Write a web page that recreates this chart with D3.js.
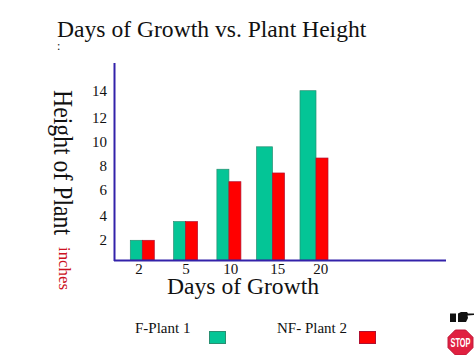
<!DOCTYPE html>
<html><head><meta charset="utf-8">
<style>html,body{margin:0;padding:0;background:#fff}svg{display:block}text{font-family:"Liberation Serif",serif;fill:#111}</style>
<script src="https://cdn.jsdelivr.net/npm/d3@7"></script></head><body>
<script>
const days = ["2","5","10","15","20"];
const plant1 = [2, 3.5, 7.7, 9.5, 14];
const plant2 = [2, 3.5, 6.7, 7.4, 8.6];
const yTicks = [2,4,6,8,10,12,14];
const seriesNames = ["F-Plant 1","NF- Plant 2"];

const green="#04c596", red="#ff0000", blue="#3322aa";
const svg=d3.select("body").append("svg").attr("width",474).attr("height",355);
const x=d3.scaleBand().domain(days).range([130.3,346.8]);
const y=d3.scaleLinear().domain([0.42,14]).range([260,90.7]);
const gw=i=>i>=3?16:12, rw=12;
const barNudge=[0,0,0,-3.7,-3.5];
const xNudge=[-3.3,0.4,1.8,9.2,8.8], yNudge={2:0,4:1,6:0,8:0,10:1,12:2,14:0};
const bx=i=>x(days[i])+barNudge[i];

const bars=svg.append("g");
bars.selectAll(".g").data(plant1).join("rect").attr("x",(d,i)=>bx(i)).attr("y",d=>y(d))
  .attr("width",(d,i)=>gw(i)).attr("height",d=>y.range()[0]-y(d)).attr("fill",green).attr("stroke","#2a8f72").attr("stroke-width",.7);
bars.selectAll(".r").data(plant2).join("rect").attr("x",(d,i)=>bx(i)+gw(i)).attr("y",d=>y(d))
  .attr("width",rw).attr("height",d=>y.range()[0]-y(d)).attr("fill",red).attr("stroke","#b01030").attr("stroke-width",.7);

svg.append("line").attr("x1",114.5).attr("x2",114.5).attr("y1",63).attr("y2",261).attr("stroke",blue).attr("stroke-width",2);
svg.append("line").attr("x1",114).attr("x2",446).attr("y1",260.5).attr("y2",260.5).attr("stroke",blue).attr("stroke-width",2);

svg.selectAll(".yt").data(yTicks).join("text").attr("x",107).attr("y",d=>y(d)+yNudge[d]+5).attr("text-anchor","end").attr("font-size",15).text(d=>d);
svg.selectAll(".xt").data(days).join("text").attr("x",(d,i)=>bx(i)+12+xNudge[i]).attr("y",274).attr("text-anchor","middle").attr("font-size",15).text(d=>d);

svg.append("text").attr("x",57).attr("y",37).attr("font-size",23.6).text("Days of Growth vs. Plant Height");
svg.append("text").attr("x",57).attr("y",50).attr("font-size",12).text(":");
svg.append("text").attr("transform","translate(53.5,90) rotate(90)").attr("font-size",27).attr("textLength",145).attr("lengthAdjust","spacingAndGlyphs").text("Height of Plant");
svg.append("text").attr("transform","translate(59,247) rotate(90)").attr("font-size",16.5).attr("textLength",43).attr("lengthAdjust","spacingAndGlyphs").style("fill","#cc1122").text("inches");
svg.append("text").attr("x",167).attr("y",294).attr("font-size",23.6).text("Days of Growth");
svg.append("text").attr("x",135).attr("y",333).attr("font-size",15).text(seriesNames[0]);
svg.append("text").attr("x",277).attr("y",333).attr("font-size",15).text(seriesNames[1]);
svg.append("rect").attr("x",209.5).attr("y",331.5).attr("width",16).attr("height",12).attr("fill",green).attr("stroke","#2a8f72");
svg.append("rect").attr("x",359.5).attr("y",331.5).attr("width",16).attr("height",12).attr("fill",red).attr("stroke","#b01030");

// hand pointer icon
const h=svg.append("g").attr("fill","#111");
h.append("rect").attr("x",450).attr("y",313.5).attr("width",6).attr("height",8.5);
h.append("path").attr("d","M458 313.5 L461 312 L467 312 L468 313.5 L474 313.5 L474 315 L467.5 315.5 L468 318 L466 322 L458 322 Z");
// stop sign
const r=13.5,cx=460.5,cy=342.5;
const oct=d3.range(8).map(i=>{const a=Math.PI/8+i*Math.PI/4;return [cx+r*Math.cos(a),cy+r*Math.sin(a)];});
svg.append("polygon").attr("points",oct.join(" ")).attr("fill","#e02040").attr("stroke","#c01838");
svg.append("text").attr("x",cx).attr("y",cy+4.5).attr("text-anchor","middle").attr("font-size",12.5).attr("textLength",20).attr("lengthAdjust","spacingAndGlyphs")
  .style("font-family","'Liberation Sans',sans-serif").style("fill","#fff").style("font-weight","bold").text("STOP");
</script></body></html>
